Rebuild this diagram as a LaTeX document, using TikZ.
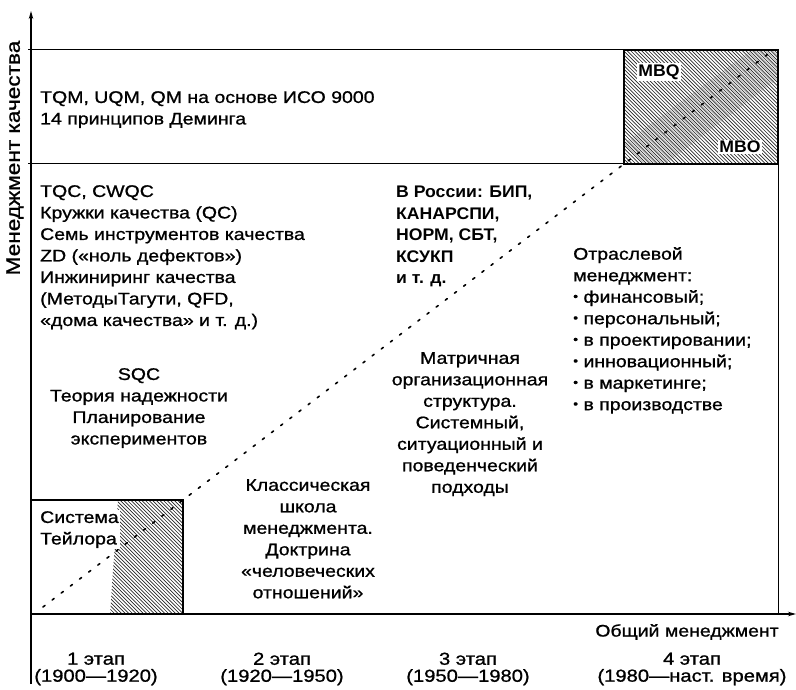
\documentclass[tikz,border=0pt]{standalone}
\usepackage{fontspec}
\setmainfont{Liberation Sans}[FakeStretch=1.16, FakeBold=1.0]
\newfontfamily\narrowbold{Liberation Sans Bold}[FakeStretch=1.05]
\usetikzlibrary{arrows.meta}
\newcommand\blt{\raisebox{0.25ex}{\fontsize{12}{12}\selectfont\textbullet}}
\begin{document}
\begin{tikzpicture}[x=1pt,y=-1pt,
  txt/.style={inner sep=0pt, font=\fontsize{16.8}{21.5}\selectfont},
  lblock/.style={txt, align=left, anchor=north west},
  cblock/.style={txt, align=center, anchor=north},
  stage/.style={txt, align=center, font=\fontsize{17.4}{17}\selectfont},
  rule/.style={line width=1pt},
  axisline/.style={line width=1.2pt, -{Stealth[length=8pt,width=4.5pt]}},
  framebox/.style={draw, line width=2.4pt, inner sep=0pt, outer sep=0pt, anchor=north west},
  hatch/.style={line width=0.65pt, black!85},
  hatchdark/.style={line width=0.45pt, black!30},
  diag/.style={line width=1.6pt, dash pattern=on 2.5pt off 9pt, line cap=round},
  tag/.style={txt, font=\fontsize{16.8}{21.5}\selectfont\narrowbold, fill=white, inner sep=1.5pt}
]
\useasboundingbox (0,0) rectangle (796,690);

% axes
\coordinate (o) at (31,614);
\coordinate (ytop) at (31,11);
\coordinate (ybot) at (31,684);
\coordinate (xend) at (796,614);
\draw[axisline] (ybot) -- (ytop);
\draw[axisline] (o) -- (xend);

% frame of the quality-management band and the right border
\coordinate (t0) at (28,50);
\coordinate (t1) at (778,50);
\coordinate (m0) at (28,164);
\coordinate (m1) at (778,164);
\coordinate (rb) at (778,614);
\draw[rule] (t0) -- (t1);
\draw[rule] (m0) -- (m1);
\draw[rule] (t1) -- (rb);

% shaded boxes
\node[framebox, minimum width=154pt, minimum height=114pt] (mbq) at (624,50) {};
\node[framebox, minimum width=152pt, minimum height=114pt] (taylor) at (31,500) {};

\begin{scope}
  \clip (mbq.north west) rectangle (mbq.south east);
  \foreach \k in {-120,-116.4,...,160}
    \draw[hatch] ([xshift=\k pt]mbq.north west) -- ++(118,118);
  \clip (622,145) -- (765,40) -- (800,40) -- (800,62) -- (655,172) -- cycle;
  \foreach \k in {-118.2,-114.6,...,160}
    \draw[hatchdark] ([xshift=\k pt]mbq.north west) -- ++(118,118);
\end{scope}
\begin{scope}
  \clip (118,500) -- (183,500) -- (183,614) -- (110,614) -- cycle;
  \foreach \k in {-120,-116.4,...,160}
    \draw[hatch] ([xshift=\k pt]taylor.north west) -- ++(118,118);
\end{scope}
\draw[line width=2.4pt] (mbq.north west) rectangle (mbq.south east);
\draw[line width=2.4pt] (taylor.north west) rectangle (taylor.south east);

% diagonal trend line
\coordinate (d0) at (43,607);
\coordinate (d3) at (772,51);
\draw[diag] (d0) -- (taylor.north east) -- (mbq.south west) -- (d3);

% labels inside the boxes
\node[tag] (mbqlab) at (659,72) {MBQ};
\node[tag] (mbolab) at (740,147) {MBO};
\node[lblock, fill=white, inner sep=1pt] (taylab) at (39,510) {Система\\Тейлора};

% text blocks
\node[lblock] (tqm) at (40,91) {TQM, UQM, QM на основе ИСО 9000\\14 принципов Деминга};
\node[lblock] (tqc) at (40,185) {TQC, CWQC\\Кружки качества (QC)\\Семь инструментов качества\\ZD («ноль дефектов»)\\Инжиниринг качества\\(МетодыТагути, QFD,\\«дома качества» и т. д.)};
\node[cblock] (sqc) at (139,368) {SQC\\Теория надежности\\Планирование\\экспериментов};
\node[cblock] (classic) at (308,479) {Классическая\\школа\\менеджмента.\\Доктрина\\«человеческих\\отношений»};
\node[lblock, font=\fontsize{16.8}{21.5}\selectfont\narrowbold] (russia) at (396,186) {В России: БИП,\\КАНАРСПИ,\\НОРМ, СБТ,\\КСУКП\\и т. д.};
\node[cblock] (matrix) at (470,352) {Матричная\\организационная\\структура.\\Системный,\\ситуационный и\\поведенческий\\подходы};
\node[lblock] (branch) at (573,247) {Отраслевой\\менеджмент:\\\blt\ финансовый;\\\blt\ персональный;\\\blt\ в проектировании;\\\blt\ инновационный;\\\blt\ в маркетинге;\\\blt\ в производстве};

% axis titles
\node[txt, rotate=90, font=\fontsize{19.5}{20}\selectfont] (ylab) at (15,158) {Менеджмент качества};
\node[txt] (xlab) at (687,632) {Общий менеджмент};

% stages
\node[stage] (s1) at (96,669) {1 этап\\(1900—1920)};
\node[stage] (s2) at (282,669) {2 этап\\(1920—1950)};
\node[stage] (s3) at (468,669) {3 этап\\(1950—1980)};
\node[stage] (s4) at (692,669) {4 этап\\(1980—наст. время)};
\end{tikzpicture}
\end{document}
